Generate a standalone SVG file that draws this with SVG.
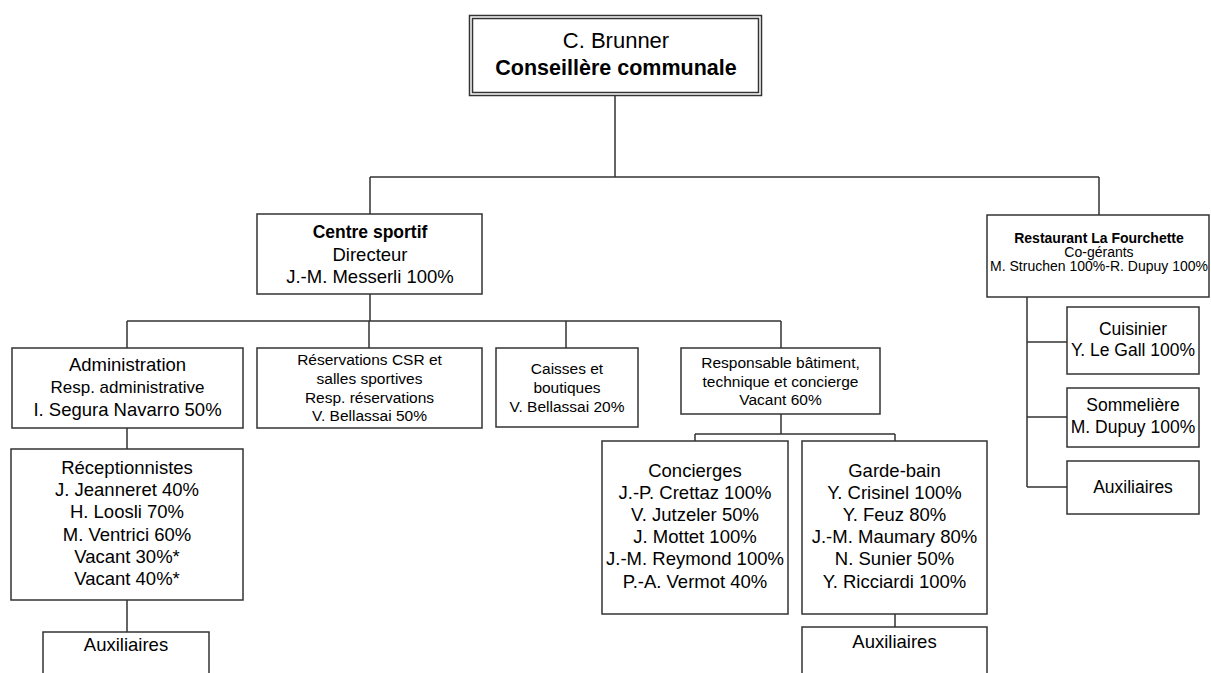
<svg xmlns="http://www.w3.org/2000/svg" width="1211" height="673" viewBox="0 0 1211 673">
<style>
.box{fill:#fff;stroke:#333;stroke-width:1.5}
.ln{fill:none;stroke:#333;stroke-width:1.5}
text{font-family:"Liberation Sans",Arial,sans-serif;fill:#000;text-anchor:middle}
.m{font-size:18.5px}
.s{font-size:15.5px}
.r{font-size:14px}
.c{font-size:17.5px}
.b{font-weight:bold}
</style>
<rect width="1211" height="673" fill="#fff"/>
<g id="connectors">
<path class="ln" d="M615 96V177M370 177H1099M370 177V214M1099 177V215"/>
<path class="ln" d="M370 294V321M127 321H781M127 321V348M369 321V348M566 321V348M781 321V348"/>
<path class="ln" d="M127 428V449M127 600V632"/>
<path class="ln" d="M781 414V434M695 434H895M695 434V441M895 434V441M895 614V627"/>
<path class="ln" d="M1027 297V487M1027 342H1067M1027 417H1067M1027 487H1067"/>
</g>
<g id="n-brunner">
<rect class="box" x="469.5" y="15.5" width="292" height="80"/>
<rect class="box" x="472.5" y="18.5" width="286" height="74"/>
<text x="616" y="48" style="font-size:22px">C. Brunner</text>
<text x="616" y="75" class="b" style="font-size:21.5px">Conseillère communale</text>
</g>
<g id="n-centre">
<rect class="box" x="257" y="214" width="225" height="80"/>
<text x="370" y="238" class="m b" style="font-size:17.5px">Centre sportif</text>
<text x="370" y="261" class="m">Directeur</text>
<text x="370" y="283" class="m">J.-M. Messerli 100%</text>
</g>
<g id="n-restaurant">
<rect class="box" x="987" y="215" width="222" height="82"/>
<text x="1099" y="243" class="r b">Restaurant La Fourchette</text>
<text x="1099" y="257" class="r">Co-gérants</text>
<text x="1099" y="271" class="r">M. Struchen 100%-R. Dupuy 100%</text>
</g>
<g id="n-admin">
<rect class="box" x="12" y="348" width="231" height="80"/>
<text x="127.5" y="371" class="m">Administration</text>
<text x="127.5" y="393" style="font-size:17px">Resp. administrative</text>
<text x="127.5" y="416" class="m">I. Segura Navarro 50%</text>
</g>
<g id="n-reservations">
<rect class="box" x="257" y="348" width="225" height="80"/>
<text x="369.5" y="365" class="s">Réservations CSR et</text>
<text x="369.5" y="384" class="s">salles sportives</text>
<text x="369.5" y="403" class="s">Resp. réservations</text>
<text x="369.5" y="421" class="s">V. Bellassai 50%</text>
</g>
<g id="n-caisses">
<rect class="box" x="496" y="348" width="142" height="79"/>
<text x="567" y="374" class="s">Caisses et</text>
<text x="567" y="393" class="s">boutiques</text>
<text x="567" y="412" class="s">V. Bellassai 20%</text>
</g>
<g id="n-responsable">
<rect class="box" x="681" y="348" width="199" height="66"/>
<text x="780.5" y="368" class="s">Responsable bâtiment,</text>
<text x="780.5" y="387" class="s">technique et concierge</text>
<text x="780.5" y="405" class="s">Vacant 60%</text>
</g>
<g id="n-receptionnistes">
<rect class="box" x="11" y="449" width="232" height="151"/>
<text x="127" y="474" class="m">Réceptionnistes</text>
<text x="127" y="496" class="m">J. Jeanneret 40%</text>
<text x="127" y="518" class="m">H. Loosli 70%</text>
<text x="127" y="541" class="m">M. Ventrici 60%</text>
<text x="127" y="563" class="m">Vacant 30%*</text>
<text x="127" y="585" class="m">Vacant 40%*</text>
</g>
<g id="n-aux-admin">
<rect class="box" x="43" y="632" width="166" height="60"/>
<text x="126" y="651" class="m">Auxiliaires</text>
</g>
<g id="n-concierges">
<rect class="box" x="602" y="441" width="186" height="173"/>
<text x="695" y="477" class="m">Concierges</text>
<text x="695" y="499" class="m">J.-P. Crettaz 100%</text>
<text x="695" y="521" class="m">V. Jutzeler 50%</text>
<text x="695" y="543" class="m">J. Mottet 100%</text>
<text x="695" y="565" class="m">J.-M. Reymond 100%</text>
<text x="695" y="588" class="m">P.-A. Vermot 40%</text>
</g>
<g id="n-gardebain">
<rect class="box" x="802" y="441" width="185" height="173"/>
<text x="894.5" y="477" class="m">Garde-bain</text>
<text x="894.5" y="499" class="m">Y. Crisinel 100%</text>
<text x="894.5" y="521" class="m">Y. Feuz 80%</text>
<text x="894.5" y="543" class="m">J.-M. Maumary 80%</text>
<text x="894.5" y="565" class="m">N. Sunier 50%</text>
<text x="894.5" y="588" class="m">Y. Ricciardi 100%</text>
</g>
<g id="n-aux-garde">
<rect class="box" x="802" y="627" width="185" height="65"/>
<text x="894.5" y="648" class="m">Auxiliaires</text>
</g>
<g id="n-cuisinier">
<rect class="box" x="1067" y="307" width="132" height="67"/>
<text x="1133" y="335" class="c">Cuisinier</text>
<text x="1133" y="356" class="c">Y. Le Gall 100%</text>
</g>
<g id="n-sommeliere">
<rect class="box" x="1067" y="388" width="132" height="59"/>
<text x="1133" y="411" class="c">Sommelière</text>
<text x="1133" y="433" class="c">M. Dupuy 100%</text>
</g>
<g id="n-aux-resto">
<rect class="box" x="1067" y="461" width="132" height="53"/>
<text x="1133" y="493" class="c">Auxiliaires</text>
</g>
</svg>
